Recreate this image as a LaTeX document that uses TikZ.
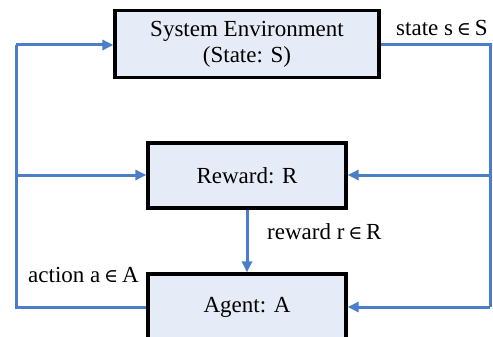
\documentclass[tikz,border=0pt]{standalone}
\usepackage{fontspec}
\setmainfont{Liberation Serif}
\newfontfamily\symfont{DejaVu Serif}
\newcommand{\elemof}{{\symfont\fontsize{19}{22}\selectfont ∈}}
\usetikzlibrary{arrows.meta}
\definecolor{linkblue}{HTML}{4A7EC8}
\definecolor{boxfill}{HTML}{E6ECF7}
\begin{document}
\begin{tikzpicture}[x=1pt,y=-1pt,
  blk/.style={draw=black,line width=3.2pt,fill=boxfill,inner sep=0pt,align=center,font=\fontsize{23}{26}\selectfont},
  link/.style={draw=linkblue,line width=3pt},
  arr/.style={link,-{Triangle[length=11pt,width=10pt]}},
  lbl/.style={inner sep=0pt,font=\fontsize{23}{26}\selectfont}]
\useasboundingbox (0,0) rectangle (493,337);
\clip (0,0) rectangle (493,337);
\node[blk,minimum width=264pt,minimum height=67pt] (env) at (247,44) {System Environment\\(State: S)};
\node[blk,minimum width=198pt,minimum height=65pt] (rew) at (247,175.5) {Reward: R};
\node[blk,minimum width=198pt,minimum height=66pt] (agt) at (247,307) {Agent: A};
\coordinate (tr) at (490,45);
\coordinate (br) at (490,307);
\coordinate (bl) at (16,307);
\coordinate (tl) at (16,45);
\coordinate (ml) at (16,175);
\coordinate (mr) at (490,175);
\draw[link] (env.east |- tr) -- (tr) -- (br);
\draw[arr] (br) -- (agt.east |- br);
\draw[arr] (mr) -- (rew.east |- mr);
\draw[link] (agt.west |- bl) -- (bl) -- (tl);
\draw[arr] (tl) -- (env.west |- tl);
\draw[arr] (ml) -- (rew.west |- ml);
\draw[arr] (rew.south) -- (agt.north);
\node[lbl,anchor=west] (ls) at (396,28) {state s\,\elemof\,S};
\node[lbl,anchor=west] (lr) at (267,232) {reward r\,\elemof\,R};
\node[lbl,anchor=west] (la) at (28,275) {action a\,\elemof\,A};
\end{tikzpicture}
\end{document}
